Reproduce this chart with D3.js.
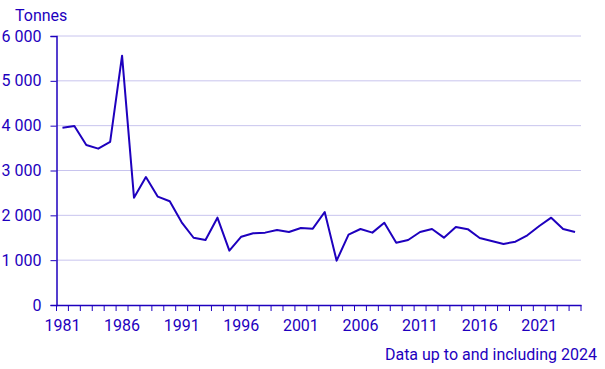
<!DOCTYPE html>
<html><head><meta charset="utf-8">
<script src="https://cdn.jsdelivr.net/npm/d3@7"></script>
<style>body{margin:0;background:#fff}svg{display:block;font-family:Roboto,sans-serif}</style>
</head><body><svg id="c" width="605" height="369"></svg>
<script>
const years = d3.range(1981, 2025);
const values = [3955,3993,3569,3487,3636,5561,2394,2855,2416,2313,1845,1500,1450,1948,1212,1524,1599,1614,1673,1628,1718,1703,2075,989,1569,1695,1614,1836,1390,1450,1628,1695,1502,1740,1692,1494,1428,1361,1413,1554,1762,1948,1695,1628];
const yTicks = [0,1000,2000,3000,4000,5000,6000];
const xLabels = [1981,1986,1991,1996,2001,2006,2011,2016,2021];
const unit = "Tonnes";
const note = "Data up to and including 2024";

const col = "#1e00be", grid = "#c8c4ee";
const svg = d3.select("#c");
const L = 56.5, R = 581, T = 36, B = 305;
const x = d3.scaleBand().domain(years).range([L, R]);
const y = d3.scaleLinear().domain([0, 6000]).range([B, T]);

svg.append("g").selectAll("line").data(yTicks.filter(d=>d>0)).join("line")
  .attr("x1", L).attr("x2", R).attr("y1", d=>y(d)).attr("y2", d=>y(d))
  .attr("stroke", grid).attr("stroke-width", 1);

const yAx = svg.append("g").attr("transform", `translate(${L},0)`)
  .call(d3.axisLeft(y).tickValues(yTicks).tickSize(6).tickPadding(9).tickFormat(d => d3.format(",")(d).replace(/,/g, " ")));
yAx.select(".domain").attr("stroke", col).attr("stroke-width", 1.5);
yAx.selectAll(".tick line").attr("stroke", col);
yAx.selectAll("text").attr("fill", col).style("font-size", "16px").style("font-family","Roboto,sans-serif");

const xAx = svg.append("g").attr("transform", `translate(0,${B})`)
  .call(d3.axisBottom(x).tickSize(0).tickFormat(d => xLabels.includes(d) ? d : ""));
xAx.select(".domain").attr("stroke", col).attr("stroke-width", 1.5);
xAx.selectAll("text").attr("fill", col).attr("y", 26).attr("dy", 0).style("font-size", "16px").style("font-family","Roboto,sans-serif");
const bounds = years.map(d => x(d)).concat([x(years[years.length-1]) + x.bandwidth()]);
svg.append("g").selectAll("line").data(bounds).join("line")
  .attr("x1", d=>d).attr("x2", d=>d).attr("y1", B).attr("y2", B+6)
  .attr("stroke", col).attr("stroke-width", 1);

svg.append("path").datum(values)
  .attr("fill", "none").attr("stroke", col).attr("stroke-width", 2).attr("stroke-linejoin","round")
  .attr("d", d3.line().x((d,i)=>x(years[i]) + x.bandwidth()/2).y(d=>y(d)));

svg.append("text").attr("x", 15).attr("y", 21).attr("fill", col).style("font-size","16px").text(unit);
svg.append("text").attr("x", 597).attr("y", 360).attr("text-anchor","end").attr("fill", col).style("font-size","16px").text(note);
</script></body></html>
